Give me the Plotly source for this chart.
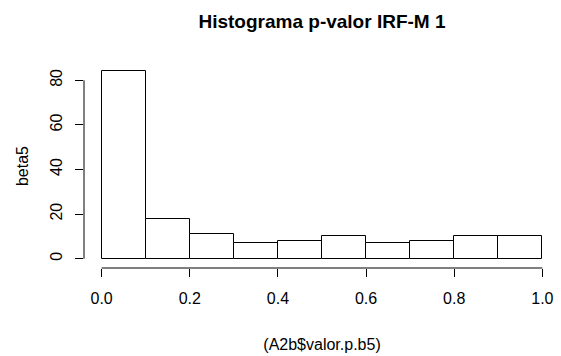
import plotly.graph_objects as go

# Histogram bins of the p-values and their counts
bin_edges = [0.0, 0.1, 0.2, 0.3, 0.4, 0.5, 0.6, 0.7, 0.8, 0.9, 1.0]
counts = [84, 18, 11, 7, 8, 10, 7, 8, 10, 10]

x_ticks = [0.0, 0.2, 0.4, 0.6, 0.8, 1.0]
x_tick_labels = ["0.0", "0.2", "0.4", "0.6", "0.8", "1.0"]
y_ticks = [0, 20, 40, 60, 80]
y_tick_labels = ["0", "20", "40", "60", "80"]

title_text = "Histograma p-valor IRF-M 1"
x_title = "(A2b$valor.p.b5)"
y_title = "beta5"

centers = [(a + b) / 2 for a, b in zip(bin_edges[:-1], bin_edges[1:])]
widths = [b - a for a, b in zip(bin_edges[:-1], bin_edges[1:])]

FONT = "Liberation Sans, Arial, sans-serif"

fig = go.Figure(
    go.Bar(
        x=centers,
        y=counts,
        width=widths,
        marker=dict(color="white", line=dict(color="black", width=1)),
        hoverinfo="x+y",
    )
)

# base-graphics style axes: 4% padding around the data, axis lines only over tick span
x_pad = 0.04 * (bin_edges[-1] - bin_edges[0])
fig.update_xaxes(
    range=[bin_edges[0] - x_pad, bin_edges[-1] + x_pad],
    tickvals=x_ticks,
    ticktext=x_tick_labels,
    ticks="outside",
    ticklen=8,
    tickwidth=1,
    tickcolor="black",
    showline=False,
    showgrid=False,
    zeroline=False,
    tickfont=dict(size=16, color="black", family=FONT),
    ticklabelstandoff=8,
    title=dict(text=x_title, font=dict(size=16, color="black", family=FONT), standoff=32),
)
fig.update_yaxes(
    range=[-4.17, 87.3],
    tickvals=y_ticks,
    ticktext=y_tick_labels,
    tickangle=-90,
    ticks="outside",
    ticklen=8,
    tickwidth=1,
    tickcolor="black",
    showline=False,
    showgrid=False,
    zeroline=False,
    tickfont=dict(size=16, color="black", family=FONT),
    ticklabelstandoff=7,
    title=dict(text=y_title, font=dict(size=16, color="black", family=FONT), standoff=14),
)

# axis lines spanning the first to last tick
fig.add_shape(type="line", xref="x", yref="paper",
              x0=x_ticks[0], x1=x_ticks[-1], y0=0, y1=0,
              line=dict(color="black", width=1))
fig.add_shape(type="line", xref="paper", yref="y",
              x0=0, x1=0, y0=y_ticks[0], y1=y_ticks[-1],
              line=dict(color="black", width=1))

fig.update_layout(
    width=561,
    height=356,
    margin=dict(l=84, r=1, t=64, b=88),
    paper_bgcolor="white",
    plot_bgcolor="white",
    showlegend=False,
    bargap=0,
    font=dict(family=FONT, color="black"),
    title=dict(
        text="<b>" + title_text + "</b>",
        font=dict(size=19, color="black", family=FONT),
        x=0.5, xref="paper", xanchor="center",
        y=1 - 21 / 356, yref="container", yanchor="middle",
    ),
)

fig.write_html("out.html")
